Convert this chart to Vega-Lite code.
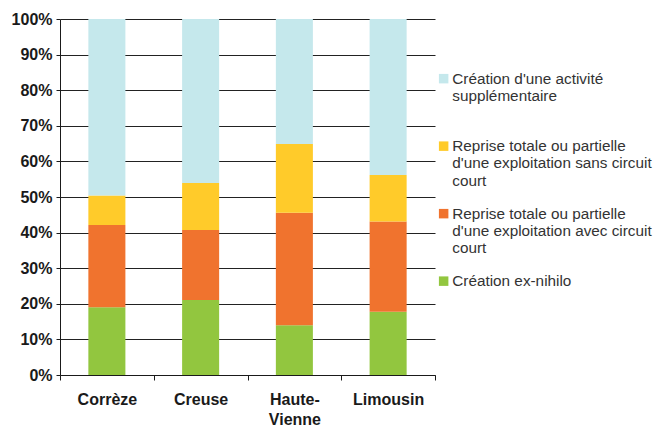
{
  "$schema": "https://vega.github.io/schema/vega-lite/v6.json",
  "width": 375,
  "height": 356,
  "autosize": {"type": "none"},
  "padding": {"left": 60, "top": 19, "right": 221, "bottom": 51},
  "background": "white",
  "config": {
    "view": {"stroke": null},
    "axis": {"labelFont": "Liberation Sans", "labelFontWeight": "bold", "labelColor": "#1a1a1a", "domainColor": "#1a1a1a", "tickColor": "#1a1a1a", "title": null}
  },
  "data": {
    "values": [
      {"zone": "Corrèze", "type": "Création ex-nihilo", "rang": 1, "part": 19.0},
      {"zone": "Corrèze", "type": "Reprise totale ou partielle d'une exploitation avec circuit court", "rang": 2, "part": 23.1},
      {"zone": "Corrèze", "type": "Reprise totale ou partielle d'une exploitation sans circuit court", "rang": 3, "part": 8.3},
      {"zone": "Corrèze", "type": "Création d'une activité supplémentaire", "rang": 4, "part": 49.6},
      {"zone": "Creuse", "type": "Création ex-nihilo", "rang": 1, "part": 21.1},
      {"zone": "Creuse", "type": "Reprise totale ou partielle d'une exploitation avec circuit court", "rang": 2, "part": 19.6},
      {"zone": "Creuse", "type": "Reprise totale ou partielle d'une exploitation sans circuit court", "rang": 3, "part": 13.2},
      {"zone": "Creuse", "type": "Création d'une activité supplémentaire", "rang": 4, "part": 46.1},
      {"zone": "Haute-Vienne", "type": "Création ex-nihilo", "rang": 1, "part": 14.0},
      {"zone": "Haute-Vienne", "type": "Reprise totale ou partielle d'une exploitation avec circuit court", "rang": 2, "part": 31.6},
      {"zone": "Haute-Vienne", "type": "Reprise totale ou partielle d'une exploitation sans circuit court", "rang": 3, "part": 19.3},
      {"zone": "Haute-Vienne", "type": "Création d'une activité supplémentaire", "rang": 4, "part": 35.1},
      {"zone": "Limousin", "type": "Création ex-nihilo", "rang": 1, "part": 17.8},
      {"zone": "Limousin", "type": "Reprise totale ou partielle d'une exploitation avec circuit court", "rang": 2, "part": 25.3},
      {"zone": "Limousin", "type": "Reprise totale ou partielle d'une exploitation sans circuit court", "rang": 3, "part": 13.1},
      {"zone": "Limousin", "type": "Création d'une activité supplémentaire", "rang": 4, "part": 43.8}
    ]
  },
  "mark": {"type": "bar", "width": {"band": 0.395}},
  "encoding": {
    "x": {
      "field": "zone",
      "type": "nominal",
      "sort": null,
      "scale": {"paddingInner": 0, "paddingOuter": 0},
      "axis": {
        "labelAngle": 0,
        "labelFontSize": 16,
        "labelPadding": 11,
        "labelLineHeight": 20,
        "labelBaseline": "top",
        "tickBand": "extent",
        "tickSize": 5,
        "labelExpr": "datum.label == 'Haute-Vienne' ? ['Haute-', 'Vienne'] : datum.label"
      }
    },
    "y": {
      "field": "part",
      "type": "quantitative",
      "stack": "zero",
      "scale": {"domain": [0, 100], "nice": false},
      "axis": {
        "values": [0, 10, 20, 30, 40, 50, 60, 70, 80, 90, 100],
        "labelExpr": "datum.value + '%'",
        "labelFontSize": 16,
        "labelPadding": 4,
        "tickSize": 4,
        "grid": true,
        "gridColor": "#222222",
        "gridWidth": 1
      }
    },
    "order": {"field": "rang", "type": "quantitative"},
    "color": {
      "field": "type",
      "type": "nominal",
      "scale": {
        "domain": [
          "Création d'une activité supplémentaire",
          "Reprise totale ou partielle d'une exploitation sans circuit court",
          "Reprise totale ou partielle d'une exploitation avec circuit court",
          "Création ex-nihilo"
        ],
        "range": ["#C5E8EC", "#FFCB2A", "#F0732E", "#92C63F"]
      },
      "legend": {
        "title": null,
        "orient": "none",
        "legendX": 376,
        "legendY": 52,
        "padding": 0,
        "symbolType": "square",
        "symbolSize": 90,
        "symbolStrokeWidth": 0,
        "symbolOpacity": 1,
        "labelFont": "Liberation Sans",
        "labelFontSize": 15.3,
        "labelColor": "#333333",
        "labelLineHeight": 19,
        "labelOffset": 1,
        "labelLimit": 300,
        "rowPadding": 16.5,
        "labelExpr": "datum.label == 'Création ex-nihilo' ? ['Création ex-nihilo', '', ''] : datum.label == 'Création d\\'une activité supplémentaire' ? ['Création d\\'une activité', 'supplémentaire', ''] : indexof(datum.label, 'sans') > 0 ? ['Reprise totale ou partielle', 'd\\'une exploitation sans circuit', 'court'] : ['Reprise totale ou partielle', 'd\\'une exploitation avec circuit', 'court']"
      }
    }
  }
}
